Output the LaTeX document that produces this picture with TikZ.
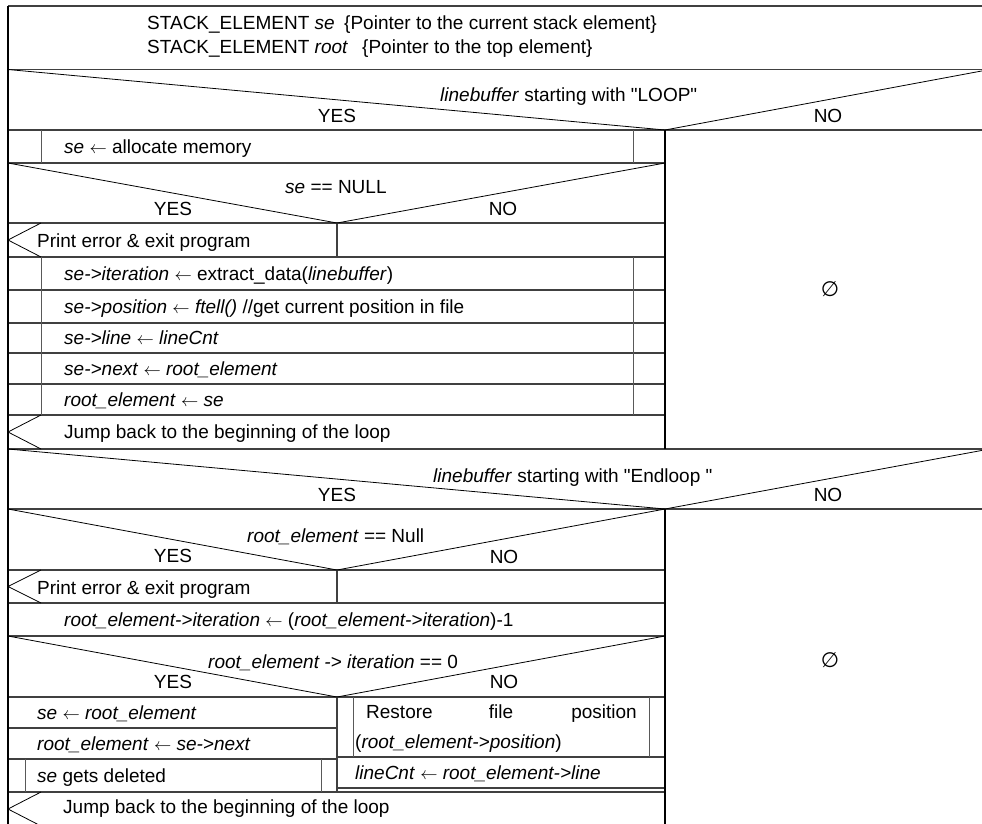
\documentclass[tikz,border=0pt]{standalone}
\usepackage{fontspec}
\setmainfont{Liberation Sans}[Ligatures=TeXOff]
\newfontfamily\djv{DejaVu Sans}
\newcommand\nsfs{\fontsize{19}{22}\selectfont}
\newcommand\la{$\leftarrow$}
\newcommand\qq{"}
\begin{document}
\begin{tikzpicture}[x=1pt,y=-1pt,
  hl/.style={line width=1.3pt, draw=black!75},
  vl/.style={line width=0.8pt, draw=black!65},
  dl/.style={line width=0.8pt, draw=black},
  bl/.style={line width=1.3pt, draw=black},
  txt/.style={anchor=base west, inner sep=0pt, font=\nsfs},
  lab/.style={anchor=base, inner sep=0pt, font=\nsfs},
  emp/.style={anchor=center, inner sep=0pt, font=\djv\fontsize{21}{24}\selectfont}]
\useasboundingbox (0,0) rectangle (982,823);
\clip (0,0) rectangle (982,823);
\fill[white] (0,0) rectangle (982,823);
% horizontal lines
\foreach \y in {6,69.5,130,449,509,830}{\draw[hl] (8,\y) -- (995,\y);}
\foreach \y in {163,223,257,290,323,353,384,415,570,603,636,697,792}{\draw[hl] (8,\y) -- (665,\y);}
\foreach \y in {728,759}{\draw[hl] (8,\y) -- (337,\y);}
\foreach \y in {757,788}{\draw[hl] (337,\y) -- (665,\y);}
% borders
\draw[bl] (8,6) -- (8,830);
\draw[bl] (665,130) -- (665,449);
\draw[bl] (665,509) -- (665,830);
% inner bars
\draw[vl] (41,130) -- (41,163); \draw[vl] (633,130) -- (633,163);
\draw[vl] (41,257) -- (41,415); \draw[vl] (633,257) -- (633,415);
\draw[hl] (337,223) -- (337,257);
\draw[hl] (337,570) -- (337,603);
\draw[hl] (337,697) -- (337,792);
\draw[vl] (25,759) -- (25,792); \draw[vl] (321,759) -- (321,792);
\draw[vl] (353,697) -- (353,757); \draw[vl] (649,697) -- (649,757);
% decision diagonals
\draw[dl] (8,69.5) -- (665,130) -- (995,68.5);
\draw[dl] (8,163) -- (337,223) -- (665,163);
\draw[dl] (8,449) -- (665,509) -- (995,448);
\draw[dl] (8,509) -- (337,570) -- (665,509);
\draw[dl] (8,636) -- (337,697) -- (665,636);
% exit chevrons
\draw[dl] (41,223) -- (8,240) -- (41,257);
\draw[dl] (41,415) -- (8,432) -- (41,449);
\draw[dl] (41,570) -- (8,586.5) -- (41,603);
\draw[dl] (41,792) -- (8,809) -- (41,826);
% header
\node[txt] (h1a) at (147,29.5) {STACK\_ELEMENT \textit{se}};
\node[txt] (h1c) at (344,29.5) {\{Pointer to the current stack element\}};
\node[txt] (h2a) at (147,53.5) {STACK\_ELEMENT \textit{root}};
\node[txt] (h2c) at (362,53.5) {\{Pointer to the top element\}};
% decision 1
\node[txt] (c1) at (440,101) {\textit{linebuffer} starting with \qq LOOP\qq};
\node[lab] (y1) at (337,122) {YES};
\node[lab] (n1) at (828,122) {NO};
\node[txt] (a1) at (64,153) {\textit{se} \la{} allocate memory};
\node[txt] (c2) at (285,193) {\textit{se} == NULL};
\node[lab] (y2) at (173,215) {YES};
\node[lab] (n2) at (503,215) {NO};
\node[txt] (e1) at (37,247) {Print error \& exit program};
\node[txt] (a2) at (64,280) {\textit{se->iteration} \la{} extract\_data(\textit{linebuffer})};
\node[txt] (a3) at (64,313) {\textit{se->position} \la{} \textit{ftell()} //get current position in file};
\node[txt] (a4) at (64,344) {\textit{se->line} \la{} \textit{lineCnt}};
\node[txt] (a5) at (64,375) {\textit{se->next} \la{} \textit{root\_element}};
\node[txt] (a6) at (64,406) {\textit{root\_element} \la{} \textit{se}};
\node[txt] (j1) at (64,438) {Jump back to the beginning of the loop};
\node[emp] (o1) at (830,289) {∅};
% decision 2
\node[txt] (c3) at (433,482) {\textit{linebuffer} starting with \qq Endloop \qq};
\node[lab] (y3) at (337,501) {YES};
\node[lab] (n3) at (828,501) {NO};
\node[txt] (c4) at (247,542) {\textit{root\_element} == Null};
\node[lab] (y4) at (173,562) {YES};
\node[lab] (n4) at (504,563) {NO};
\node[txt] (e2) at (37,594) {Print error \& exit program};
\node[txt] (b1) at (64,626) {\textit{root\_element->iteration} \la{} (\textit{root\_element->iteration})-1};
\node[txt] (c5) at (208,668) {\textit{root\_element -> iteration} == 0};
\node[lab] (y5) at (173,688) {YES};
\node[lab] (n5) at (504,688) {NO};
\node[txt] (b2) at (37,719) {\textit{se} \la{} \textit{root\_element}};
\node[txt] (b3) at (37,750) {\textit{root\_element} \la{} \textit{se->next}};
\node[txt] (b4) at (37,782) {\textit{se} gets deleted};
\node[txt] (r1) at (366,718) {Restore};
\node[lab] (r2) at (501,718) {file};
\node[txt,anchor=base east] (r3) at (637,718) {position};
\node[txt] (r4) at (355,748) {(\textit{root\_element->position})};
\node[txt] (b5) at (355,779) {\textit{lineCnt} \la{} \textit{root\_element->line}};
\node[txt] (j2) at (63,813) {Jump back to the beginning of the loop};
\node[emp] (o2) at (830,660) {∅};
\end{tikzpicture}
\end{document}
